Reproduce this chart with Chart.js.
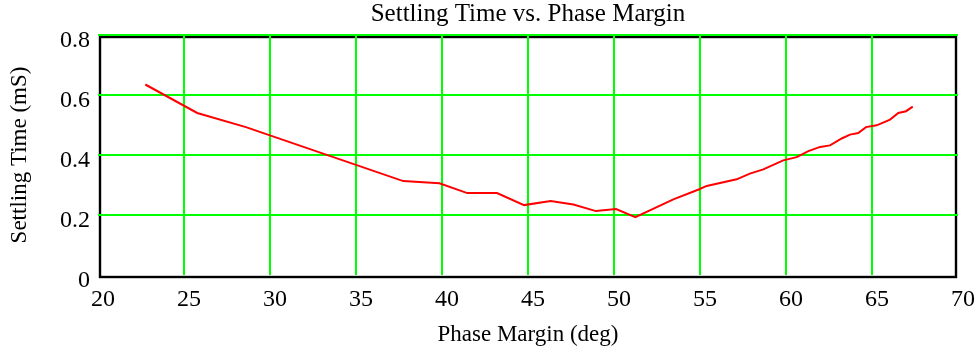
<!DOCTYPE html>
<html>
<head>
<meta charset="utf-8">
<script src="https://cdn.jsdelivr.net/npm/chart.js@4"></script>
<style>
html,body{margin:0;padding:0;background:#fff;}
#wrap{width:974px;height:349px;}
</style>
</head>
<body>
<div id="wrap"><canvas id="c" width="974" height="349"></canvas></div>
<script>
const titleText = "Settling Time vs. Phase Margin";
const xAxisTitle = "Phase Margin (deg)";
const yAxisTitle = "Settling Time (mS)";
const xMin = 20, xMax = 70, xStep = 5;
const yMin = 0, yMax = 0.8, yStep = 0.2;

const phaseMargin = [22.75, 25.77, 28.6, 37.75, 39.85, 41.47, 43.2, 44.77, 46.32, 47.64, 48.95, 50.12, 51.24,
  53.45, 54.92, 55.39, 57.13, 57.9, 58.68, 59.84, 60.62, 61.3, 61.98, 62.56, 63.24, 63.72, 64.2, 64.65,
  65.27, 66.05, 66.53, 66.98, 67.37];
const settlingTime = [0.635, 0.540, 0.493, 0.313, 0.306, 0.273, 0.273, 0.233, 0.247, 0.235, 0.213, 0.220, 0.193,
  0.252, 0.285, 0.297, 0.319, 0.338, 0.352, 0.382, 0.393, 0.413, 0.427, 0.432, 0.455, 0.468, 0.473, 0.493,
  0.499, 0.518, 0.540, 0.546, 0.561];

const points = phaseMargin.map((x, i) => ({x: x, y: settlingTime[i]}));
const FONT = "'Liberation Serif', 'Times New Roman', serif";

const framePlugin = {
  id: 'frame',
  beforeDraw(chart) {
    const a = chart.chartArea, ctx = chart.ctx;
    ctx.save();
    ctx.strokeStyle = '#000';
    ctx.lineWidth = 2.4;
    ctx.strokeRect(a.left + 2, a.top + 2, (a.right - 2) - (a.left + 2), (a.bottom + 2) - (a.top + 2));
    ctx.restore();
  },
  afterDraw(chart) {
    const a = chart.chartArea, ctx = chart.ctx;
    ctx.save();
    ctx.fillStyle = '#000';
    ctx.font = "25px " + FONT;
    ctx.textAlign = 'center';
    ctx.textBaseline = 'alphabetic';
    ctx.fillText(titleText, (a.left + a.right) / 2, 21);
    ctx.restore();
  }
};

new Chart(document.getElementById('c'), {
  type: 'line',
  data: {
    datasets: [{
      data: points,
      borderColor: '#ff0000',
      borderWidth: 2,
      pointRadius: 0,
      fill: false,
      tension: 0
    }]
  },
  plugins: [framePlugin],
  options: {
    responsive: false,
    animation: false,
    layout: {padding: {left: 0, right: 16, top: 35, bottom: 0}},
    plugins: {
      legend: {display: false},
      tooltip: {enabled: false},
      title: {display: false}
    },
    scales: {
      x: {
        type: 'linear',
        min: xMin, max: xMax,
        border: {display: false},
        grid: {
          color: ctx => (ctx.tick && (ctx.tick.value === xMin || ctx.tick.value === xMax)) ? 'rgba(0,0,0,0)' : '#00ff00',
          lineWidth: 2,
          drawTicks: false
        },
        ticks: {
          stepSize: xStep,
          color: '#000',
          font: {family: FONT, size: 24},
          padding: 10,
          labelOffset: 5,
          maxRotation: 0
        },
        title: {
          display: true,
          text: xAxisTitle,
          color: '#000',
          font: {family: FONT, size: 23},
          padding: {top: 0, bottom: 0}
        },
        afterFit: s => { s.height = 74; s.paddingLeft = 0; s.paddingRight = 0; }
      },
      y: {
        type: 'linear',
        min: yMin, max: yMax,
        border: {display: false},
        grid: {
          color: ctx => (ctx.tick && ctx.tick.value === yMin) ? 'rgba(0,0,0,0)' : '#00ff00',
          lineWidth: 2,
          drawTicks: false
        },
        ticks: {
          stepSize: yStep,
          color: '#000',
          font: {family: FONT, size: 24},
          padding: 8,
          labelOffset: 6,
          callback: v => (Math.round(v * 10) / 10).toString()
        },
        title: {
          display: true,
          text: yAxisTitle,
          color: '#000',
          font: {family: FONT, size: 23},
          padding: {top: 6, bottom: 0}
        },
        afterFit: s => { s.width = 98; s.paddingTop = 0; s.paddingBottom = 0; }
      }
    }
  }
});
</script>
</body>
</html>
